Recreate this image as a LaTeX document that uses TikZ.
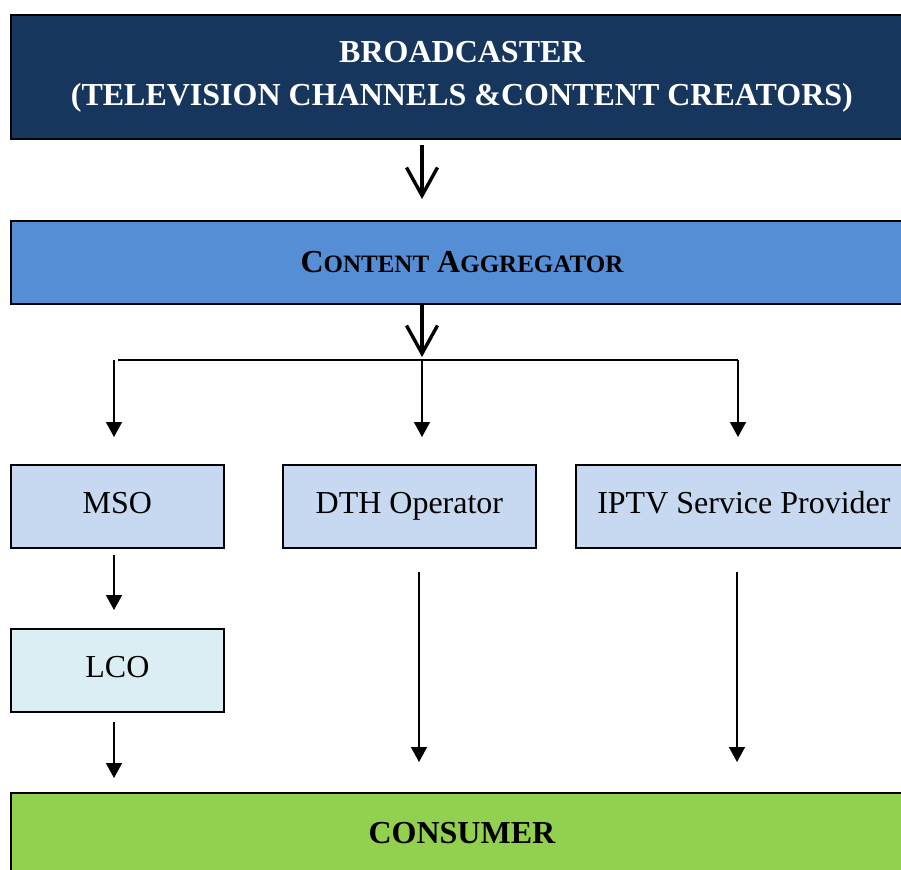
\documentclass[tikz,border=0pt]{standalone}
\usepackage{fontspec}
\setmainfont{Liberation Serif}
\usetikzlibrary{arrows.meta}
\definecolor{navy}{HTML}{17365D}
\definecolor{aggblue}{HTML}{558ED5}
\definecolor{lightblue}{HTML}{C6D9F1}
\definecolor{paleblue}{HTML}{DBEEF4}
\definecolor{grassgreen}{HTML}{92D050}
\newcommand{\bigsc}[1]{{\fontsize{32}{38}\selectfont #1}}
\newcommand{\smallsc}[1]{{\fontsize{25}{30}\selectfont #1}}
\begin{document}
\begin{tikzpicture}[x=1pt,y=-1pt,
  box/.style={draw=black, line width=1.8pt, rectangle, anchor=north west, inner sep=0pt,
    font=\fontsize{32}{38}\selectfont, align=center},
  smallbox/.style={box, minimum height=83pt, text height=22pt, text depth=7pt},
  conn/.style={draw=black, line width=1.5pt},
  arr/.style={conn, -{Triangle[width=16pt,length=15pt]}},
  openarrow/.style={draw=black, line width=3.4pt, -{Straight Barb[width=31pt,length=28pt,line width=3.4pt]}}]
\useasboundingbox (0,0) rectangle (901,869);
\fill[white] (0,0) rectangle (901,869);

\node[box, fill=navy, text=white, minimum width=902pt, minimum height=124pt,
  font=\bfseries\fontsize{32}{43}\selectfont] (broad) at (10,14)
  {BROADCASTER\\(TELEVISION CHANNELS \&CONTENT CREATORS)};
\node[box, fill=aggblue, minimum width=902pt, minimum height=83pt, font=\bfseries] (agg) at (10,220)
  {\bigsc{C}\smallsc{ONTENT}\hspace{8pt}\bigsc{A}\smallsc{GGREGATOR}};
\node[smallbox, fill=lightblue, minimum width=213pt] (mso) at (10,464) {MSO};
\node[smallbox, fill=lightblue, minimum width=253pt] (dth) at (282,464) {DTH Operator};
\node[smallbox, fill=lightblue, minimum width=336pt] (iptv) at (575,464) {IPTV Service Provider};
\node[smallbox, fill=paleblue, minimum width=213pt] (lco) at (10,628) {LCO};
\node[box, fill=grassgreen, minimum width=902pt, minimum height=80pt, font=\bfseries\fontsize{32}{38}\selectfont] (cons) at (10,792) {CONSUMER};

\coordinate (split) at (422,360);
\coordinate (jl) at (114,360);
\coordinate (jr) at (738,360);
\coordinate (dthx) at (419,560);
\coordinate (iptvx) at (737,560);

\draw[openarrow, shorten <=5pt, shorten >=21pt] (broad.south -| split) -- (agg.north -| split);
\draw[openarrow, shorten >=3pt] (agg.south -| split) -- (split);
\draw[conn] ([xshift=4pt]jl) -- (jr);
\draw[arr, shorten >=27pt] (jl) -- (jl |- mso.north);
\draw[arr, shorten >=27pt] (split) -- (split |- dth.north);
\draw[arr, shorten >=27pt] (jr) -- (jr |- iptv.north);
\draw[arr, shorten <=6pt, shorten >=18pt] (mso.south -| jl) -- (lco.north -| jl);
\draw[arr, shorten <=9pt, shorten >=14pt] (lco.south -| jl) -- (cons.north -| jl);
\draw[arr, shorten <=23pt, shorten >=30pt] (dth.south -| dthx) -- (cons.north -| dthx);
\draw[arr, shorten <=23pt, shorten >=30pt] (iptv.south -| iptvx) -- (cons.north -| iptvx);
\end{tikzpicture}
\end{document}
